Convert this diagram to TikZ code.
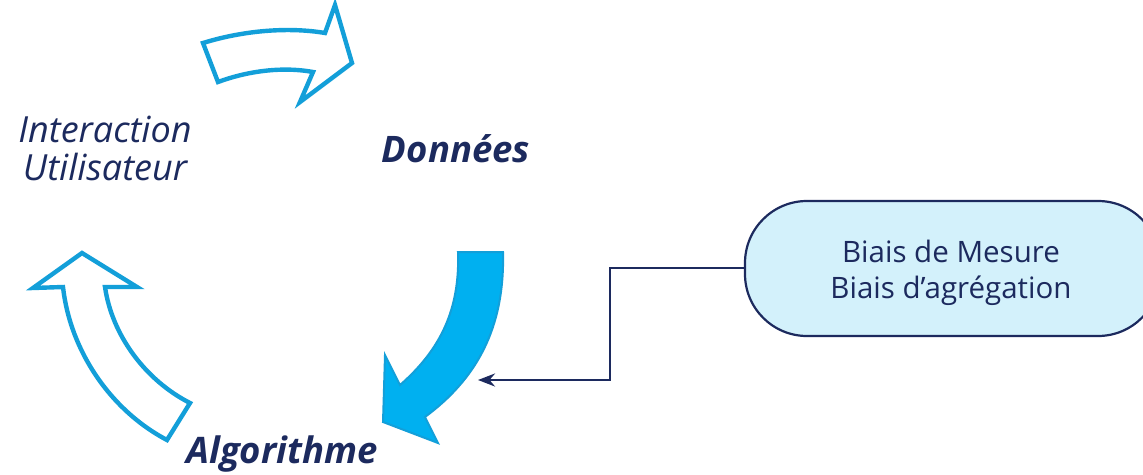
\documentclass[tikz,border=0pt]{standalone}
\usepackage{fontspec}
\setmainfont{Open Sans}
\usetikzlibrary{arrows.meta}
\definecolor{navy}{HTML}{1C2A5E}
\definecolor{outblue}{HTML}{139FD9}
\definecolor{fillblue}{HTML}{00B0F0}
\definecolor{boxfill}{HTML}{D3F1FB}
\tikzset{
  hollowarrow/.style={draw=outblue, line width=4.4pt, fill=white, line join=miter},
  solidarrow/.style={draw=outblue, line width=2pt, fill=fillblue},
  lbl/.style={text=navy, inner sep=0pt, align=center},
  conn/.style={draw=navy, line width=2.6pt, -{Stealth[length=17pt,width=13pt]}}
}
\begin{document}
\begin{tikzpicture}[x=1pt,y=-1pt]
\useasboundingbox (0,0) rectangle (1143,474);
% top hollow arrow
\draw[hollowarrow] (203,43) .. controls (245,30) and (290,27) .. (325,33) -- (335,5) -- (352,63) -- (300,102) -- (313,72) .. controls (280,66) and (245,72) .. (218,82) -- cycle;
% left hollow arrow
\draw[hollowarrow] (82,253) -- (137,287) -- (105,287) .. controls (112,335) and (145,380) .. (190,403) -- (167,440) .. controls (110,410) and (70,350) .. (63,287) -- (33,288) -- cycle;
% filled down arrow
\draw[solidarrow] (458,252) -- (503,252) .. controls (505,330) and (475,380) .. (425,417) -- (438,443) -- (383,422) -- (385,355) -- (400,385) .. controls (440,350) and (460,310) .. (458,252) -- cycle;
% labels
\node[lbl, anchor=base, font=\fontsize{36}{38}\selectfont\itshape] (inter) at (105,180) {Interaction\\Utilisateur};
\node[lbl, anchor=base, font=\fontsize{36.5}{40}\selectfont\bfseries\itshape] (donnees) at (456,162) {Données};
\node[lbl, anchor=base, font=\fontsize{36.5}{40}\selectfont\bfseries\itshape] (algo) at (282,463) {Algorithme};
% box
\draw[navy, line width=2.2pt, fill=boxfill, rounded corners=62pt] (745,201) rectangle (1160,336);
\node[lbl, anchor=base, font=\fontsize{29.5}{36}\selectfont] (biais) at (951,298) {Biais de Mesure\\Biais d’agrégation};
\coordinate (boxw) at (745,268);
\coordinate (tip) at (478,380);
\draw[conn] (boxw) -- (610,268) |- (tip);
\end{tikzpicture}
\end{document}
